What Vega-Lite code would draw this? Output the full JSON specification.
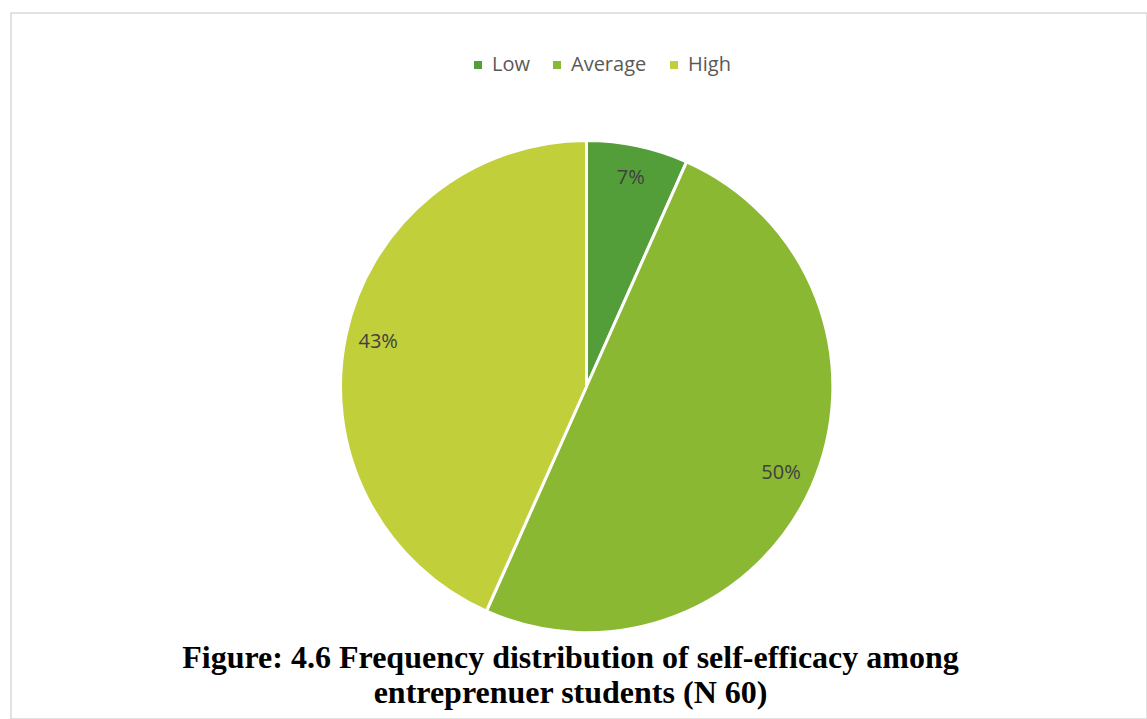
{
  "$schema": "https://vega.github.io/schema/vega-lite/v6.json",
  "autosize": {"type": "none"},
  "padding": {"left": 11, "top": 13, "right": 0, "bottom": 0},
  "width": 1136,
  "height": 706,
  "background": "white",
  "view": {"stroke": "#d9d9d9", "strokeWidth": 1.5, "fill": "white"},
  "config": {"view": {"stroke": "#d9d9d9", "strokeWidth": 1.5}},
  "title": {
    "text": ["Figure: 4.6 Frequency distribution of self-efficacy among", "entreprenuer students (N 60)"],
    "orient": "bottom",
    "anchor": "middle",
    "font": "Liberation Serif",
    "fontSize": 32,
    "fontWeight": "bold",
    "color": "black",
    "baseline": "alphabetic",
    "offset": -51,
    "dx": -8.5,
    "lineHeight": 35
  },
  "data": {
    "values": [
      {"Level": "Low", "Share": 0.0667, "Rank": 1},
      {"Level": "Average", "Share": 0.5, "Rank": 2},
      {"Level": "High", "Share": 0.4333, "Rank": 3}
    ]
  },
  "encoding": {
    "theta": {"field": "Share", "type": "quantitative", "stack": true},
    "order": {"field": "Rank", "type": "quantitative"}
  },
  "layer": [
    {
      "mark": {"type": "arc", "outerRadius": 246, "stroke": "white", "strokeWidth": 3, "xOffset": 7.5, "yOffset": 20.5},
      "encoding": {
        "color": {
          "field": "Level",
          "type": "nominal",
          "scale": {"domain": ["Low", "Average", "High"], "range": ["#549e39", "#8ab833", "#c0cf3a"]},
          "legend": {
            "orient": "none",
            "legendX": 457,
            "legendY": 42,
            "direction": "horizontal",
            "title": null,
            "symbolType": "square",
            "symbolSize": 64,
            "symbolStrokeWidth": 0,
            "labelFont": "Open Sans",
            "labelFontSize": 20,
            "labelColor": "#595959",
            "columnPadding": 17,
            "labelOffset": 4,
            "padding": 0
          }
        }
      }
    },
    {
      "mark": {"type": "text", "radius": 213, "font": "Open Sans", "fontSize": 20, "xOffset": 7.5, "yOffset": 20.5},
      "encoding": {
        "detail": {"field": "Level", "type": "nominal"},
        "text": {"field": "Share", "type": "quantitative", "format": ".0%"},
        "color": {"value": "#404040"}
      }
    }
  ]
}
